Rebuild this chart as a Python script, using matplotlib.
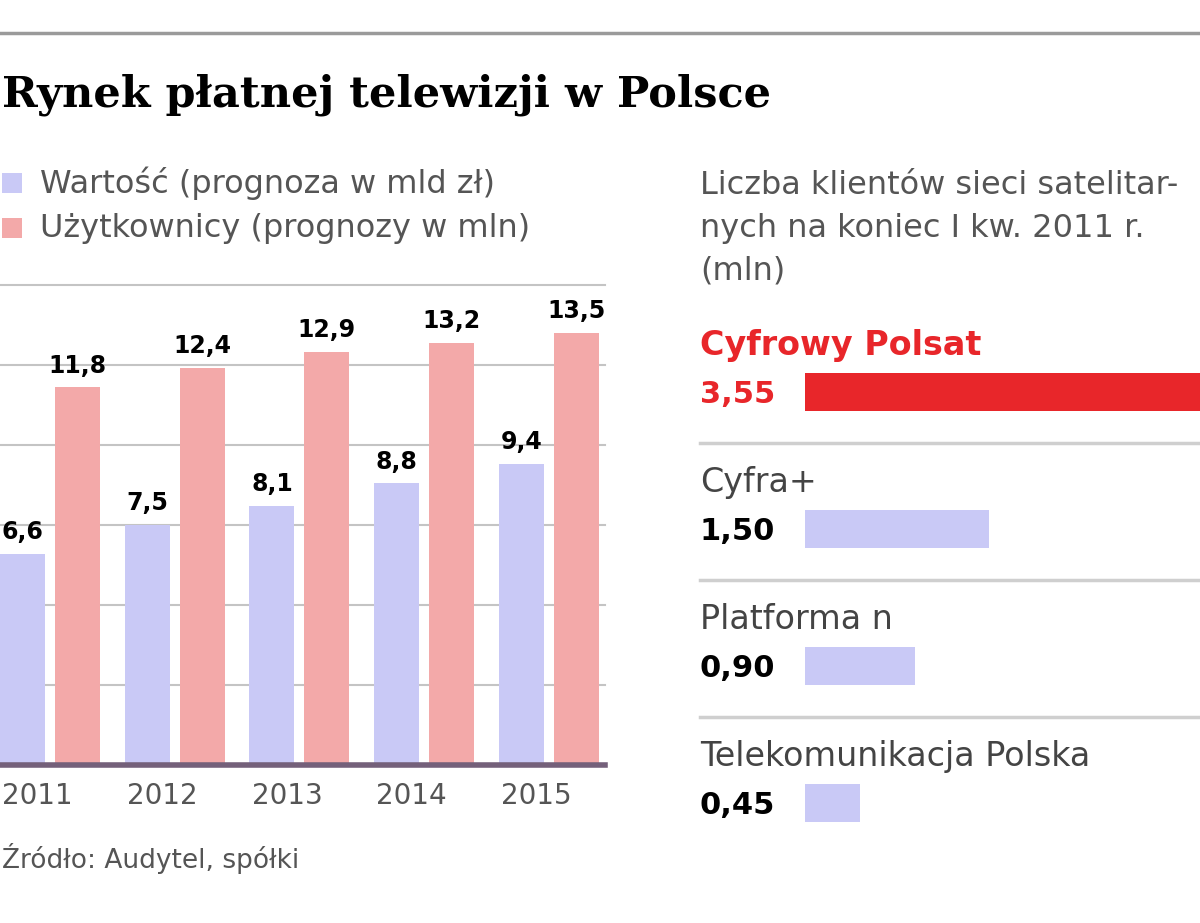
import matplotlib
matplotlib.use('Agg')
import numpy as np
import matplotlib.pyplot as plt
import matplotlib.transforms as mtransforms
from matplotlib.patches import Rectangle

# dane
years = ['2011', '2012', '2013', '2014', '2015']
wartosc = [6.6, 7.5, 8.1, 8.8, 9.4]          # mld zł
uzytkownicy = [11.8, 12.4, 12.9, 13.2, 13.5]  # mln
operators = ['Cyfrowy Polsat', 'Cyfra+', 'Platforma n', 'Telekomunikacja Polska']
klienci = [3.55, 1.50, 0.90, 0.45]           # mln

BLUE = '#c9c9f6'
PINK = '#f3a9a9'
RED = '#e8262a'
GRAY_TXT = '#555555'

fig = plt.figure(figsize=(12, 9.23), dpi=100)
W, H = 1200, 923


def fx(px):
    return px / W


def fy(py):
    return 1 - py / H


# górna linia i tytuł
fig.add_artist(plt.Line2D([0, 1], [fy(33), fy(33)], color='#9a9a9a', lw=2.5))
fig.text(fx(2), fy(95), 'Rynek płatnej telewizji w Polsce', fontsize=31,
         fontweight='bold', family='DejaVu Serif', va='center', ha='left')

# legenda
for py, c, lab in [(183, BLUE, 'Wartość (prognoza w mld zł)'),
                   (228, PINK, 'Użytkownicy (prognozy w mln)')]:
    fig.add_artist(Rectangle((fx(2), fy(py + 10)), fx(20), 20 / H,
                             facecolor=c, edgecolor='none'))
    fig.text(fx(40), fy(py), lab, fontsize=23, color=GRAY_TXT, va='center')

# wykres słupkowy
ax = fig.add_axes([0, fy(765), fx(605), 480 / H])
x = np.arange(len(years))
bw = 0.36
b1 = ax.bar(x - 0.22, wartosc, bw, color=BLUE, zorder=2)
b2 = ax.bar(x + 0.22, uzytkownicy, bw, color=PINK, zorder=2)
for bars, vals in [(b1, wartosc), (b2, uzytkownicy)]:
    for r, v in zip(bars, vals):
        ax.annotate(f'{v:.1f}'.replace('.', ','),
                    (r.get_x() + r.get_width() / 2, v),
                    textcoords='offset points', xytext=(0, 7),
                    ha='center', va='bottom', fontsize=17, fontweight='bold')
for g in np.arange(2.5, 15.1, 2.5):
    ax.axhline(g, color='#c4c4c4', lw=1.5, zorder=1, clip_on=False)
ax.axhline(0, color='#74607a', lw=4, zorder=3, clip_on=False)
ax.set_xlim(-0.40, 4.45)
ax.set_ylim(0, 15)
ax.set_xticks(x - 0.1)
ax.set_xticklabels(years, fontsize=20, color=GRAY_TXT)
ax.tick_params(axis='x', length=0, pad=12)
ax.set_yticks([])
for s in ax.spines.values():
    s.set_visible(False)

fig.text(fx(2), fy(858), 'Źródło: Audytel, spółki', fontsize=19,
         color=GRAY_TXT, va='center')

# panel prawy
fig.text(fx(700), fy(228),
         'Liczba klientów sieci satelitar-\nnych na koniec I kw. 2011 r.\n(mln)',
         fontsize=23, color=GRAY_TXT, va='center', linespacing=1.48)

ax2 = fig.add_axes([fx(805), fy(850), fx(395), 520 / H])
yk = np.arange(len(operators))
colors = [RED] + [BLUE] * (len(operators) - 1)
ax2.barh(yk, klienci, height=0.28, color=colors)
ax2.set_xlim(0, 3.22)
ax2.set_ylim(3.343, -0.453)
ax2.axis('off')
tr = mtransforms.blended_transform_factory(ax2.transAxes, ax2.transData)
for k, (name, v) in enumerate(zip(operators, klienci)):
    c_name = RED if k == 0 else '#444444'
    c_val = RED if k == 0 else 'black'
    ax2.text(-0.266, k - 0.34, name, transform=tr, fontsize=24,
             color=c_name, fontweight='bold' if k == 0 else 'normal',
             va='center', ha='left', clip_on=False)
    ax2.text(-0.266, k + 0.02, f'{v:.2f}'.replace('.', ','), transform=tr,
             fontsize=22, color=c_val, fontweight='bold',
             va='center', ha='left', clip_on=False)
    if k < len(operators) - 1:
        ax2.plot([-0.266, 1], [k + 0.37, k + 0.37], transform=tr,
                 color='#cfcfcf', lw=2.5, clip_on=False)

fig.savefig('out.png', dpi=100)
